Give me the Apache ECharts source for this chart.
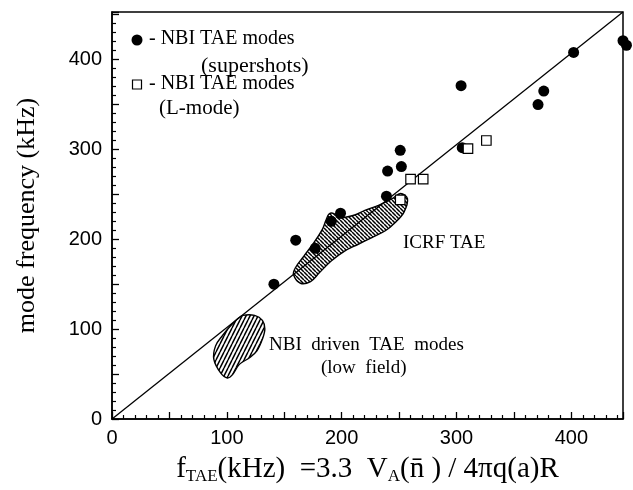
<!DOCTYPE html>
<html><head><meta charset="utf-8">
<script src="https://cdn.jsdelivr.net/npm/echarts@6/dist/echarts.min.js"></script>
<style>html,body{margin:0;padding:0;background:#fff}#c{width:633px;height:490px}</style>
</head><body><div id="c"></div><script>
// ---- data (kHz) ----
const xTickLabels = [0, 100, 200, 300, 400];
const yTickLabels = [0, 100, 200, 300, 400];
const supershotX = [141, 160, 177, 191, 199, 239, 240, 251, 252, 304, 305, 371, 376, 402, 445, 448];
const supershotY = [150, 199, 190, 220, 229, 248, 276, 299, 281, 371, 302, 350, 365, 408, 421, 416];
const lmodeX = [251, 260, 271, 310, 326];
const lmodeY = [244, 267, 267, 301, 310];
const icrfX = [158.1, 164.1, 172.9, 180.3, 190.6, 202.5, 214.4, 226.3, 238, 246.9, 254.3, 257.3, 251.3, 244, 232.1, 220.2, 209.9, 196.7, 193.6, 189.2, 186.2, 183.3, 175.8, 167.1, 159.6];
const icrfY = [160.5, 151.1, 153, 162.4, 175.6, 186.9, 194.5, 202, 209.5, 219, 230.3, 245.3, 251, 245.3, 237.8, 232.2, 226.5, 224, 228.4, 228.4, 220.8, 211.4, 196.3, 181.3, 168.1];
const nbiX = [113.8, 124.2, 131, 133.1, 131, 126.2, 119.8, 110.9, 105, 100.5, 94.6, 88.7, 90.2, 96.1, 103.5, 109.4];
const nbiY = [115.3, 115.3, 109.8, 100.2, 88.9, 75.8, 68.2, 60.8, 49.4, 45.7, 51.3, 66.4, 81.4, 92.7, 104, 111.5];
const fitX = [0, 445];
const fitY = [0, 453];
const xMax = 445, yMax = 453;

function zip(a, b) { return a.map((v, i) => [v, b[i]]); }

function hatch(w, h, steep) {
  const c = document.createElement('canvas');
  c.width = w; c.height = h;
  const g = c.getContext('2d');
  g.fillStyle = '#fff'; g.fillRect(0, 0, w, h);
  g.strokeStyle = '#000'; g.lineWidth = 1.5;
  g.beginPath();
  for (let k = -1; k <= 1; k++) {
    if (steep) { g.moveTo(k * w, h); g.lineTo(k * w + w, 0); }
    else { g.moveTo(k * w, 0); g.lineTo(k * w + w, h); }
  }
  g.stroke();
  return c;
}
const icrfPattern = { image: hatch(4, 4, false), repeat: 'repeat' };
const nbiPattern = { image: hatch(4, 8, true), repeat: 'repeat' };

function blobSeries(xs, ys, pattern) {
  return {
    type: 'custom', coordinateSystem: 'cartesian2d', z: 1, silent: true,
    data: zip(xs, ys), encode: { x: 0, y: 1 },
    renderItem: function (params, api) {
      if (params.dataIndex !== 0) return null;
      const pts = xs.map((x, i) => api.coord([x, ys[i]]));
      return { type: 'polygon', shape: { points: pts, smooth: 0.35 },
        style: { fill: pattern, stroke: '#000', lineWidth: 1.4 } };
    }
  };
}

const numFont = 'Liberation Sans, Arial, sans-serif';
const serif = 'Liberation Serif, Times New Roman, serif';

const chart = echarts.init(document.getElementById('c'), null, { renderer: 'canvas' });
const axisCommon = {
  type: 'value', min: 0, interval: 50,
  axisLine: { show: true, lineStyle: { color: '#000', width: 1.5 } },
  axisTick: { show: true, inside: true, length: 7, lineStyle: { color: '#000', width: 1.3 } },
  minorTick: { show: true, splitNumber: 5, length: 4, lineStyle: { color: '#000', width: 1.2 } },
  splitLine: { show: false },
  axisLabel: { color: '#000', fontFamily: numFont, fontSize: 20 }
};

chart.setOption({
  animation: false,
  backgroundColor: '#fff',
  grid: { left: 112, right: 10, top: 12, bottom: 70, show: true, borderColor: '#000', borderWidth: 1.5 },
  xAxis: Object.assign({}, axisCommon, {
    max: xMax,
    axisLabel: Object.assign({}, axisCommon.axisLabel, { margin: 9,
      formatter: v => (xTickLabels.indexOf(v) >= 0) ? String(v) : '' }),
    name: '{n|f}{s|TAE}{n|(kHz)  =3.3  V}{s|A}{n|(n\u0304 ) / 4\u03c0q(a)R}',
    nameLocation: 'middle', nameGap: 34,
    nameTextStyle: { color: '#000', fontFamily: serif, fontSize: 29,
      rich: {
        n: { fontFamily: serif, fontSize: 29, lineHeight: 32, color: '#000' },
        s: { fontFamily: serif, fontSize: 17, lineHeight: 17, verticalAlign: 'bottom', color: '#000' }
      } }
  }),
  yAxis: Object.assign({}, axisCommon, {
    max: yMax,
    axisLabel: Object.assign({}, axisCommon.axisLabel, { margin: 10,
      formatter: v => (yTickLabels.indexOf(v) >= 0) ? String(v) : '' }),
    name: 'mode frequency (kHz)', nameLocation: 'middle', nameGap: 72,
    nameTextStyle: { color: '#000', fontFamily: serif, fontSize: 26 }
  }),
  graphic: [
    { type: 'circle', shape: { cx: 137, cy: 40, r: 5.5 }, style: { fill: '#000' } },
    { type: 'text', left: 149, top: 29, style: { text: '- NBI TAE modes', font: '20px ' + serif, fill: '#000' } },
    { type: 'text', left: 201, top: 55, style: { text: '(supershots)', font: '22px ' + serif, fill: '#000' } },
    { type: 'rect', shape: { x: 132.5, y: 80, width: 9, height: 9 }, style: { fill: '#fff', stroke: '#000', lineWidth: 1.2 } },
    { type: 'text', left: 149, top: 74, style: { text: '- NBI TAE modes', font: '20px ' + serif, fill: '#000' } },
    { type: 'text', left: 159, top: 98, style: { text: '(L-mode)', font: '21px ' + serif, fill: '#000' } },
    { type: 'text', left: 403, top: 234, style: { text: 'ICRF TAE', font: '19px ' + serif, fill: '#000' } },
    { type: 'text', left: 269, top: 336, style: { text: 'NBI  driven  TAE  modes', font: '19px ' + serif, fill: '#000' } },
    { type: 'text', left: 321, top: 359, style: { text: '(low  field)', font: '19px ' + serif, fill: '#000' } }
  ],
  series: [
    blobSeries(icrfX, icrfY, icrfPattern),
    blobSeries(nbiX, nbiY, nbiPattern),
    { type: 'line', data: zip(fitX, fitY), z: 3, symbol: 'none', silent: true,
      lineStyle: { color: '#000', width: 1.3 } },
    { type: 'scatter', name: 'NBI TAE modes (supershots)', data: zip(supershotX, supershotY), z: 4,
      clip: false, symbol: 'circle', symbolSize: 11, itemStyle: { color: '#000', opacity: 1 } },
    { type: 'scatter', name: 'NBI TAE modes (L-mode)', data: zip(lmodeX, lmodeY), z: 5,
      clip: false, symbol: 'rect', symbolSize: 9.5,
      itemStyle: { color: '#fff', borderColor: '#000', borderWidth: 1.2, opacity: 1 } }
  ]
});
</script></body></html>
